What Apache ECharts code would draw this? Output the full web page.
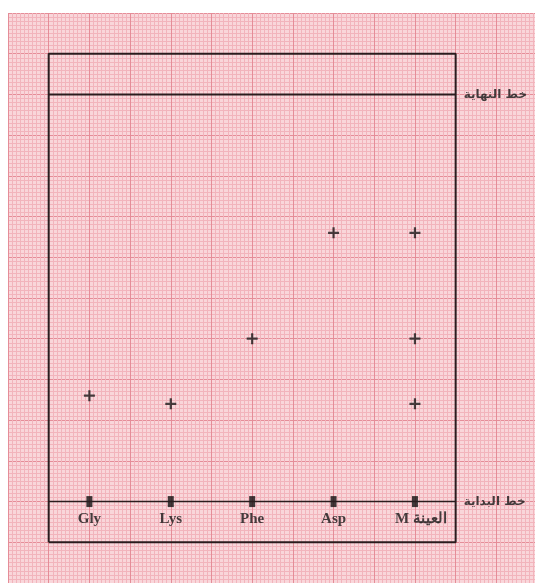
<!DOCTYPE html>
<html>
<head>
<meta charset="utf-8">
<script src="https://cdn.jsdelivr.net/npm/echarts@6/dist/echarts.min.js"></script>
<style>
html,body{margin:0;padding:0;background:#ffffff;}
#chart{width:535px;height:583px;}
</style>
</head>
<body>
<div id="chart"></div>
<script>
// Lanes (amino acid standards and sample M), positions along the plate in mm
const lanes = ['Gly', 'Lys', 'Phe', 'Asp', 'M العينة'];
const laneX = [10, 30, 50, 70, 90];
// Spot distances from the start line (mm), per lane
const glySpots = [26];
const lysSpots = [24];
const pheSpots = [40];
const aspSpots = [66];
const mSpots = [66, 40, 24];
// Plate frame and lines (mm)
const plateX = [0, 100];
const plateY = [-10, 110];
const startLineY = 0;
const finishLineY = 100;
const lineLabels = ['خط النهاية', 'خط البداية'];

const laneSpots = [glySpots, lysSpots, pheSpots, aspSpots, mSpots];
const spotData = [];
laneSpots.forEach((arr, i) => arr.forEach(d => spotData.push([laneX[i], d])));

const frameData = [
  [plateX[0], plateY[0]], [plateX[1], plateY[0]],
  [plateX[1], plateY[1]], [plateX[0], plateY[1]], [plateX[0], plateY[0]]
];

const ink = '#2b1c1e';
const chart = echarts.init(document.getElementById('chart'), null, {renderer: 'canvas'});
chart.setOption({
  animation: false,
  backgroundColor: '#ffffff',
  grid: {
    left: 8, right: 0, top: 13, bottom: -4,
    show: true, backgroundColor: '#f9d6da', borderWidth: 0
  },
  xAxis: {
    type: 'value', min: -10, max: 119.5, interval: 10,
    axisLine: {show: false}, axisTick: {show: false}, axisLabel: {show: false},
    splitLine: {show: true, lineStyle: {color: '#e58d98', width: 1}},
    minorTick: {show: false, splitNumber: 10},
    minorSplitLine: {show: true, lineStyle: {color: '#f2b4bc', width: 1}}
  },
  yAxis: {
    type: 'value', min: -20, max: 120, interval: 10,
    axisLine: {show: false}, axisTick: {show: false}, axisLabel: {show: false},
    splitLine: {show: true, lineStyle: {color: '#e58d98', width: 1}},
    minorTick: {show: false, splitNumber: 10},
    minorSplitLine: {show: true, lineStyle: {color: '#f2b4bc', width: 1}}
  },
  series: [
    {
      type: 'line', data: frameData, symbol: 'none', silent: true,
      lineStyle: {color: ink, width: 2}
    },
    {
      type: 'line', data: [[plateX[0], finishLineY], [plateX[1], finishLineY]],
      symbol: 'none', silent: true, lineStyle: {color: ink, width: 2}
    },
    {
      type: 'line', data: [[plateX[0], startLineY], [plateX[1], startLineY]],
      symbol: 'none', silent: true, lineStyle: {color: ink, width: 1.5}
    },
    {
      type: 'scatter', symbol: 'rect', symbolSize: [6, 11],
      itemStyle: {color: '#111111'},
      data: laneX.map((x, i) => ({
        value: [x, startLineY],
        name: lanes[i],
        label: i === lanes.length - 1 ? {offset: [6, 0]} : {}
      })),
      label: {
        show: true, position: 'bottom', distance: 5,
        formatter: p => p.name,
        fontFamily: 'Liberation Serif', fontWeight: 'bold', fontSize: 15, color: '#161616'
      }
    },
    {
      type: 'scatter',
      symbol: 'path://M4,0H6V4H10V6H6V10H4V6H0V4H4Z',
      symbolSize: 11,
      itemStyle: {color: '#1a1a1a'},
      data: spotData
    },
    {
      type: 'scatter', symbolSize: 0,
      data: [
        {value: [plateX[1], finishLineY], name: lineLabels[0]},
        {value: [plateX[1], startLineY], name: lineLabels[1]}
      ],
      label: {
        show: true, position: 'right', distance: 8,
        formatter: p => p.name,
        fontFamily: 'DejaVu Sans', fontWeight: 'bold', fontSize: 12, color: '#161616'
      }
    }
  ]
});
</script>
</body>
</html>
